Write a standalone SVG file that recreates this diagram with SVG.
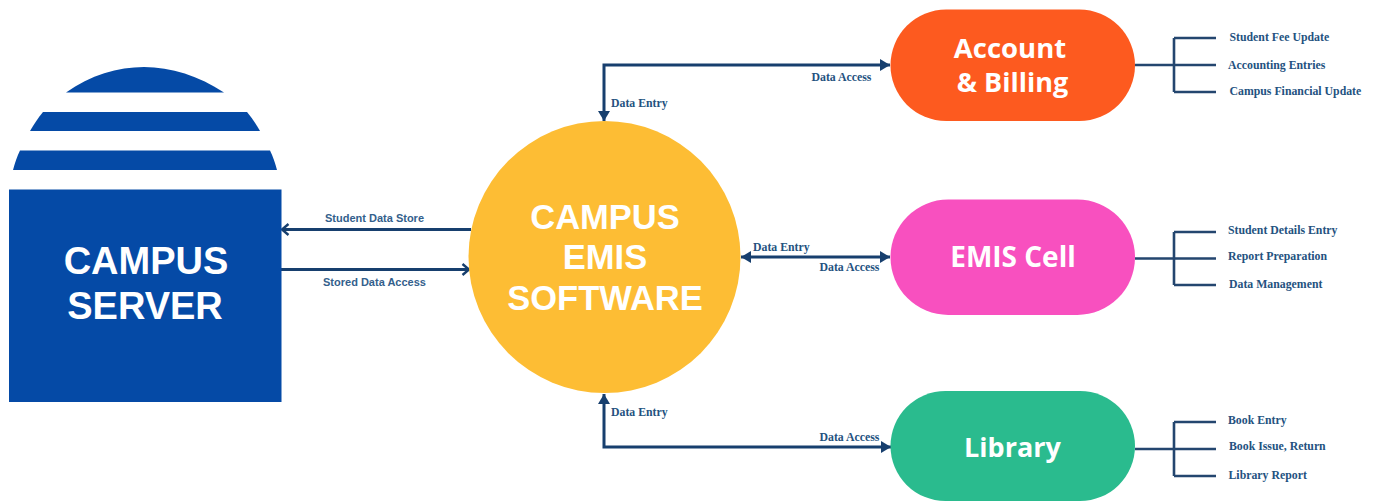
<svg xmlns="http://www.w3.org/2000/svg" width="1375" height="501" viewBox="0 0 1375 501">
<style>
.t{font-family:"Open Sans","Liberation Sans",sans-serif;font-weight:700;fill:#fff;text-anchor:middle}
.c{font-family:"Liberation Sans",sans-serif;font-weight:700;font-size:38px;fill:#fff;text-anchor:middle}
.m{font-family:"Liberation Sans",sans-serif;font-weight:700;font-size:34.500px;fill:#fff;text-anchor:middle}
.s{font-family:"Liberation Serif","DejaVu Serif",serif;font-weight:700;font-size:11.800px;fill:#24527f}
.ss{font-family:"Liberation Sans",sans-serif;font-weight:700;font-size:11px;fill:#33608c;text-anchor:middle}
.l{fill:none;stroke:#173f6e;stroke-width:3}
.b{fill:none;stroke:#24466f;stroke-width:2.6}
</style>
<defs>
<marker id="ah" markerUnits="userSpaceOnUse" markerWidth="14" markerHeight="14" refX="11" refY="7" orient="auto-start-reverse"><path d="M1 1 L11 7 L1 13 Z" fill="#173f6e"/></marker>
<marker id="oa" markerUnits="userSpaceOnUse" markerWidth="14" markerHeight="14" refX="10.500" refY="7" orient="auto-start-reverse"><path d="M4 1.500 L10.500 7 L4 12.500" fill="none" stroke="#173f6e" stroke-width="2.4"/></marker>
</defs>
<rect width="1375" height="501" fill="#fff"/>
<g id="connectors">
<path class="l" d="M471 229.500H282" marker-end="url(#oa)"/>
<path class="l" d="M281 269.500H469" marker-end="url(#oa)"/>
<path class="l" d="M890 65H604V121" marker-start="url(#ah)" marker-end="url(#ah)"/>
<path class="l" d="M741 257H890" marker-start="url(#ah)" marker-end="url(#ah)"/>
<path class="l" d="M891 447H604V394" marker-start="url(#ah)" marker-end="url(#ah)"/>
<path class="b" d="M1135 65H1216M1174 38H1216M1174 92H1216M1174 38V92"/>
<path class="b" d="M1135 258.500H1216M1174 232H1216M1174 285H1216M1174 232V285"/>
<path class="b" d="M1135 449H1216M1174 422H1216M1174 476H1216M1174 422V476"/>
</g>
<g id="server">
<path fill="#054aa6" d="M66 92.500C90 75 118 67 144 67C171 67 199 76 224 92.500Z"/>
<path fill="#054aa6" d="M43 112H247C252 118 256 124 260 131H30C34 124 38 118 43 112Z"/>
<path fill="#054aa6" d="M20 150.500H270C273 156 275 163 277 170H13C15 163 17 156 20 150.500Z"/>
<rect x="9" y="189.500" width="272.500" height="212.500" fill="#054aa6"/>
<text class="c" x="146" y="274">CAMPUS</text>
<text class="c" x="145" y="319">SERVER</text>
</g>
<g id="emis-software">
<circle cx="604.500" cy="257" r="136" fill="#fdbd34"/>
<text class="m" x="605" y="228.500">CAMPUS</text>
<text class="m" x="605" y="269">EMIS</text>
<text class="m" x="605" y="309.500">SOFTWARE</text>
</g>
<g id="account-billing">
<rect x="890.500" y="9.500" width="244.500" height="111.500" rx="55.700" fill="#fd5a1f"/>
<text class="t" font-size="27.500" x="1010" y="58">Account</text>
<text class="t" font-size="27" x="1012.500" y="92">&amp; Billing</text>
</g>
<g id="emis-cell">
<rect x="890.500" y="199.500" width="244.500" height="115.500" rx="57.700" fill="#f850bf"/>
<text class="t" font-size="28" x="1013" y="267">EMIS Cell</text>
</g>
<g id="library">
<rect x="890.500" y="391" width="244.500" height="110" rx="55" fill="#2abb8e"/>
<text class="t" font-size="27" x="1012.500" y="457">Library</text>
</g>
<g id="labels">
<text class="ss" x="374.500" y="221.500">Student Data Store</text>
<text class="ss" x="374.500" y="285.500">Stored Data Access</text>
<text class="s" x="611" y="107">Data Entry</text>
<text class="s" x="811.500" y="81">Data Access</text>
<text class="s" x="753" y="250.500">Data Entry</text>
<text class="s" x="819.500" y="270.500">Data Access</text>
<text class="s" x="611" y="416">Data Entry</text>
<text class="s" x="819.500" y="440.500">Data Access</text>
<text class="s" x="1229.500" y="40.500">Student Fee Update</text>
<text class="s" x="1228" y="68.500">Accounting Entries</text>
<text class="s" x="1229.500" y="94.500">Campus Financial Update</text>
<text class="s" x="1228" y="233.500">Student Details Entry</text>
<text class="s" x="1228" y="260">Report Preparation</text>
<text class="s" x="1229" y="287.500">Data Management</text>
<text class="s" x="1228" y="424">Book Entry</text>
<text class="s" x="1229" y="450">Book Issue, Return</text>
<text class="s" x="1228.500" y="478.500">Library Report</text>
</g>
</svg>
